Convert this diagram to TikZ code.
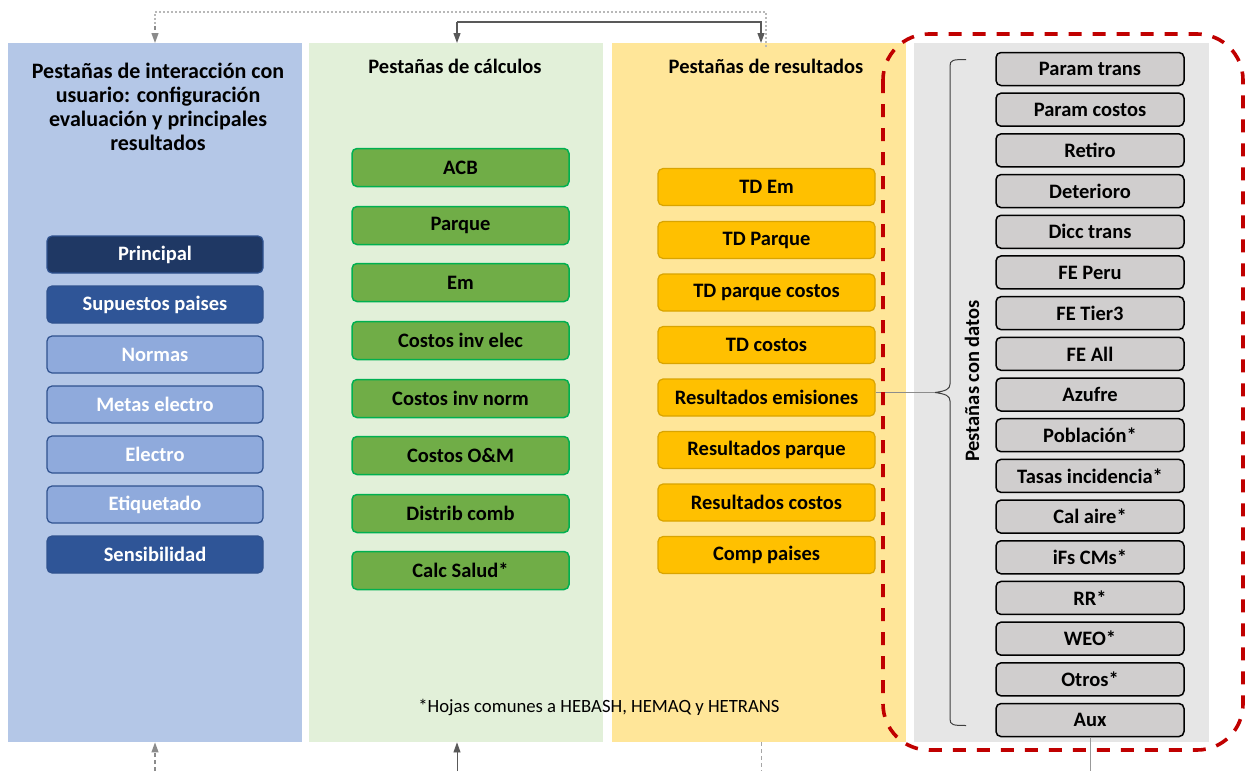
\documentclass[tikz,border=0pt]{standalone}
\usepackage{fontspec}
\setmainfont{Carlito}
\usetikzlibrary{arrows.meta}
\definecolor{pblue}{HTML}{B4C7E7}
\definecolor{pgreen}{HTML}{E2F0D9}
\definecolor{pyellow}{HTML}{FFE699}
\definecolor{pgray}{HTML}{E6E6E6}
\definecolor{navy}{HTML}{1F3864}
\definecolor{mblue}{HTML}{2F5597}
\definecolor{lblue}{HTML}{8FAADC}
\definecolor{bblue}{HTML}{2F528F}
\definecolor{gfill}{HTML}{70AD47}
\definecolor{gline}{HTML}{00B050}
\definecolor{yfill}{HTML}{FFC000}
\definecolor{yline}{HTML}{D9A400}
\definecolor{boxgray}{HTML}{D0CECE}
\definecolor{redd}{HTML}{C00000}
\definecolor{arrgray}{HTML}{595959}
\definecolor{dashgray}{HTML}{A6A6A6}
\tikzset{
  panel/.style={fill=#1, draw=none, minimum width=294pt, minimum height=699pt, anchor=north west, inner sep=0pt},
  btxt/.style={font=\bfseries\fontsize{20.5}{24}\selectfont},
  bluebox/.style={btxt, text=white, rounded corners=5pt, fill=#1, draw=bblue, line width=1.2pt, minimum width=216pt, minimum height=37pt, inner sep=0pt},
  greenbox/.style={btxt, rounded corners=5pt, fill=gfill, draw=gline, line width=1.5pt, minimum width=217pt, minimum height=38pt, inner sep=0pt},
  yellowbox/.style={btxt, rounded corners=5pt, fill=yfill, draw=yline, line width=1.2pt, minimum width=217pt, minimum height=37pt, inner sep=0pt},
  graybox/.style={btxt, rounded corners=5pt, fill=boxgray, draw=black, line width=1.5pt, minimum width=188pt, minimum height=33pt, inner sep=0pt},
  ptitle/.style={btxt, align=center, anchor=north},
  arr/.style={draw=arrgray, line width=1.2pt, -{Triangle[length=10pt,width=7pt]}},
  darr/.style={draw=dashgray, line width=1.2pt, dash pattern=on 4pt off 3pt},
  dotl/.style={draw=dashgray!80, line width=1.5pt, dash pattern=on 2pt off 2pt},
}
\begin{document}
\begin{tikzpicture}[x=1pt,y=-1pt]
\useasboundingbox (0,0) rectangle (1250,771);
% panels
\node[panel=pblue] (p1) at (8,43) {};
\node[panel=pgreen] (p2) at (309,43) {};
\node[panel=pyellow] (p3) at (612,43) {};
\node[panel=pgray, minimum width=295pt] (p4) at (914,43) {};
% titles
\node[ptitle, font=\bfseries\fontsize{22}{24}\selectfont] (t1) at (158,60) {Pestañas de interacción con\\usuario: configuración\\evaluación y principales\\resultados};
\node[ptitle] (t2) at (455,56) {Pestañas de cálculos};
\node[ptitle] (t3) at (766,56) {Pestañas de resultados};
% blue boxes
\node[bluebox=navy] (b1) at (155,254.5) {Principal};
\node[bluebox=mblue] (b2) at (155,304.5) {Supuestos paises};
\node[bluebox=lblue] (b3) at (155,354.5) {Normas};
\node[bluebox=lblue] (b4) at (155,404.5) {Metas electro};
\node[bluebox=lblue] (b5) at (155,454.5) {Electro};
\node[bluebox=lblue] (b6) at (155,504.5) {Etiquetado};
\node[bluebox=mblue] (b7) at (155,554.5) {Sensibilidad};
% green boxes
\node[greenbox] (g1) at (460.5,167.5) {ACB};
\node[greenbox] (g2) at (460.5,225.5) {Parque};
\node[greenbox] (g3) at (460.5,282.5) {Em};
\node[greenbox] (g4) at (460.5,340.5) {Costos inv elec};
\node[greenbox] (g5) at (460.5,398.5) {Costos inv norm};
\node[greenbox] (g6) at (460.5,455.5) {Costos O\&M};
\node[greenbox] (g7) at (460.5,513.5) {Distrib comb};
\node[greenbox] (g8) at (460.5,570.5) {Calc Salud*};
% yellow boxes
\node[yellowbox] (y1) at (766.5,187) {TD Em};
\node[yellowbox] (y2) at (766.5,240) {TD Parque};
\node[yellowbox] (y3) at (766.5,292.5) {TD parque costos};
\node[yellowbox] (y4) at (766.5,345) {TD costos};
\node[yellowbox] (rem) at (766.5,397.5) {Resultados emisiones};
\node[yellowbox] (y6) at (766.5,450) {Resultados parque};
\node[yellowbox] (y7) at (766.5,502.5) {Resultados costos};
\node[yellowbox] (y8) at (766.5,555) {Comp paises};
% gray boxes
\foreach \t [count=\i from 0] in {Param trans,Param costos,Retiro,Deterioro,Dicc trans,FE Peru,FE Tier3,FE All,Azufre,Población*,Tasas incidencia*,Cal aire*,iFs CMs*,RR*,WEO*,Otros*,Aux}
  \node[graybox] (d\i) at (1090,69+40.69*\i) {\t};
% footnote
\node[font=\fontsize{18.7}{20}\selectfont] (fn) at (599,707) {*Hojas comunes a HEBASH, HEMAQ y HETRANS};
% rotated label
\node[btxt, rotate=90] (lbl) at (972,381) {Pestañas con datos};
% brace
\coordinate (bt) at (935,392.5);
\draw[draw=black!75, line width=1pt] (966,59.5) .. controls (953,59.5) and (950,60) .. (950,66) -- (950,384) .. controls (950,389) and (946,391) .. (bt) .. controls (946,394) and (950,396) .. (950,401) -- (950,719) .. controls (950,725) and (953,725.5) .. (966,725.5);
\draw[draw=black!45, line width=1pt] (rem.east |- bt) -- (bt);
% red dashed frame
\draw[redd, line width=3.6pt, dash pattern=on 13pt off 11pt, rounded corners=46pt] (883,34) rectangle (1243,750);
% top connectors
\coordinate (dtop) at (766,47);
\draw[dotl] (dtop) -- (766,12) -- (155,12) -- (155,28);
\draw[arr, draw=arrgray!70, dash pattern=on 4pt off 3pt] (155,26) -- (p1.north -| 155,0);
\draw[arr] (457,22) -- (p2.north -| 457,0);
\draw[arr] (457,22) -- (761,22) -- (p3.north -| 761,0);
% bottom connectors
\coordinate (bb1) at (155,771);
\coordinate (bb2) at (457,771);
\coordinate (bb3) at (761,771);
\coordinate (bb4) at (1090,771);
\draw[arr, draw=arrgray!70, dash pattern=on 4pt off 3pt] (bb1) -- (bb1 |- p1.south);
\draw[arr, line width=0.8pt] (bb2) -- (bb2 |- p2.south);
\draw[darr, line width=0.8pt] (bb3 |- p3.south) -- (bb3);
\draw[draw=black!40, line width=1pt] (d16.south) -- (bb4);
\end{tikzpicture}
\end{document}
